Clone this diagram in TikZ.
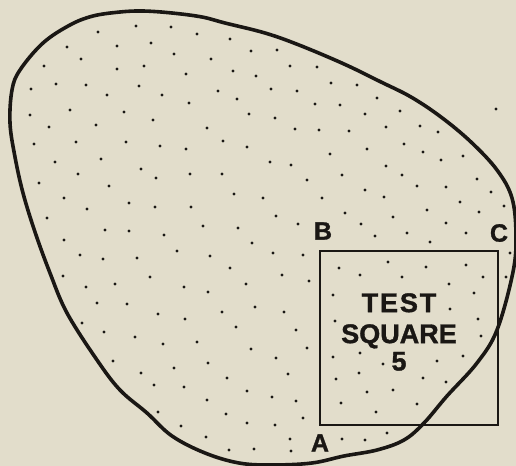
\documentclass[tikz,border=0pt]{standalone}
\usepackage{fontspec}
\newfontfamily\heavyfont[FakeBold=1.2]{Liberation Sans Bold}
\usepackage{tikz}
\definecolor{paper}{HTML}{E2DDCB}
\definecolor{ink}{HTML}{1A1714}

\begin{document}
\begin{tikzpicture}[x=0.5pt,y=-0.5pt,dot/.style={circle,fill=ink,inner sep=0pt,minimum size=1.6pt},
    lbl/.style={font=\heavyfont\fontsize{12.5}{14}\selectfont,text=ink,inner sep=0pt}]
\fill[paper](0,0)rectangle(516,466);
\useasboundingbox(0,0)rectangle(516,466);
% the region
\draw[ink,line width=1.8pt]plot[smooth cycle,tension=0.6]coordinates{
    (143,11)(172,13)(202,17)(225,23)(265,33)(299,45)(344,64)(381,82)(411,97)(441,117)
    (471,142)(497,170)(512,198)(516,235)(513,272)(497,330)(477,363)(447,396)(424,423)
    (404,440)(377,450)(344,456)(312,463)(272,465)(239,463)(205,453)(172,436)(147,413)
    (120,390)(97,360)(67,313)(50,273)(35,232)(23,193)(15,157)(10,123)(12,90)(20,70)
    (43,43)(70,25)(93,16)(120,12)};
% dots
\foreach\x/\y[count=\i]in{136/26,171/27,98/32,67/47,117/46,151/43,81/59,44/66,117/69,144/66,
    31/89,56/84,86/85,107/95,139/86,162/95,30/115,70/110,124/112,153/120,49/127,96/125,
    34/144,76/142,126/142,160/146,55/162,101/159,141/169,156/178,78/174,39/183,109/186,
    64/198,87/209,129/203,155/207,47/218,105/230,129/231,
    197/34,230/39,174/54,211/59,251/51,277/50,186/74,233/71,256/76,290/66,317/67,331/83,
    218/91,271/89,297/91,189/103,237/99,315/104,340/105,249/114,275/118,207/128,295/129,
    319/130,223/141,186/149,247/147,330/154,270/162,291/165,190/174,222/174,342/175,
    307/180,234/194,263/198,322/198,191/207,276/216,203/226,238/228,298/224,
    357/85,377/98,365/114,400/111,349/131,386/127,420/126,438/132,496/109,367/149,404/144,
    423/152,441/160,463/156,386/166,402/175,365/190,384/197,417/186,446/187,477/179,
    491/192,345/213,393/217,427/210,460/202,479/212,504/206,361/224,446/223,407/233,466/233,
    64/240,80/255,103/259,137/258,164/235,63/276,86/287,115/284,150/277,97/303,127/304,
    158/314,82/323,104/332,135/337,163/344,113/361,141/373,154/385,158/412,
    252/243,177/251,210/256,273/253,303/255,230/268,282/275,309/281,184/287,208/292,
    246/284,222/312,255/307,284/312,185/319,236/327,296/330,197/342,251/349,307/348,
    276/358,208/363,174/368,227/378,288/374,184/387,247/391,272/397,296/401,207/400,
    226/414,181/426,247/423,275/425,303/418,206/437,290/439,229/450,254/449,291/451,342/439,
    375/236,430/242,510/253,506/277,387/433,365/440,
    388/262,360/275,402/277,426/267,466/265,483/277,449/284,474/293,450/309,478/319,
    481/336,360/353,383/364,437/361,463/356,359/373,423/378,446/382,393/390,367/392,
    417/404,376/412,333/295,335/321,339/268,333/357,336/379,341/403}{
    \node[dot](d\i)at(\x,\y){};
}
% test square
\coordinate(sqA)at(320,425);
\coordinate(sqC)at(498,251);
\draw[ink,line width=1.2pt](sqA)rectangle(sqC);
\node[lbl]at(320,443)(a){A};
\node[lbl]at(323,231)(b){B};
\node[lbl]at(499,233)(c){C};
\node[lbl,align=center,font=\heavyfont\fontsize{13.5}{15.5}\selectfont]at(399,332)(ts){{\addfontfeature{LetterSpace=7}TEST}\\SQUARE\\[-1.8pt]5};
\end{tikzpicture}
\end{document}
